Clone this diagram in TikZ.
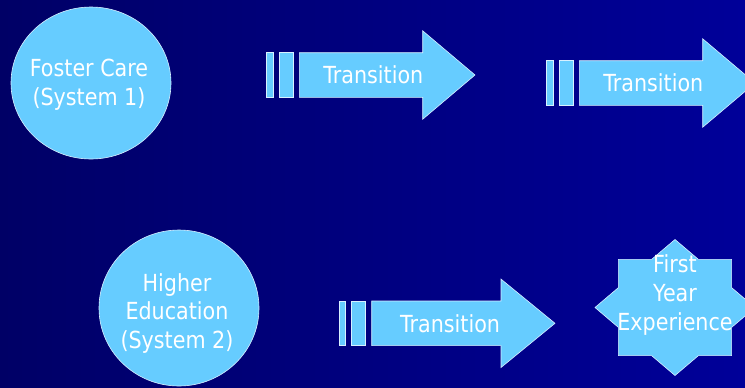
\documentclass[tikz,border=0pt]{standalone}
\usepackage{fontspec}
\setmainfont{DejaVu Sans}[FakeStretch=0.88]
\definecolor{bgleft}{HTML}{000066}
\definecolor{bgright}{HTML}{000099}
\definecolor{shapefill}{HTML}{66CCFF}
\definecolor{shapeline}{HTML}{D8F0FF}
\tikzset{
  shp/.style={fill=shapefill, draw=shapeline, line width=0.6bp},
  lbl/.style={text=white, align=center, inner sep=0pt,
    font=\fontsize{23.5bp}{28.7bp}\selectfont},
}
% \TArrow{name}{x0}{yc}{headbase}{tip}{textx}
\newcommand{\TArrow}[6]{%
  \path[shp] (#2,#3-22.3) rectangle (#2+6.7,#3+22.3);
  \path[shp] (#2+12.7,#3-22.3) rectangle (#2+26.7,#3+22.3);
  \path[shp] (#2+32.7,#3-22.3) -- (#4,#3-22.3) -- (#4,#3-44.2) -- (#5,#3)
     -- (#4,#3+44.2) -- (#4,#3+22.3) -- (#2+32.7,#3+22.3) -- cycle;
  \node[lbl] (#1) at (#6,#3) {Transition};
}
\begin{document}
\begin{tikzpicture}[x=1bp,y=-1bp]
\useasboundingbox (0,0) rectangle (745,387);
\clip (0,0) rectangle (745,387);
\shade[left color=bgleft, right color=bgright] (0,0) rectangle (745,387);

% Foster care
\path[shp] (91,83) ellipse [x radius=80, y radius=76];
\node[lbl] (foster) at (89,84.5) {Foster Care\\(System 1)};

% Higher education
\path[shp] (179,308) ellipse [x radius=80, y radius=78];
\node[lbl] (higher) at (177,313.5) {Higher\\Education\\(System 2)};

% Transition arrows
\TArrow{t1}{266.7}{75}{422.7}{475}{373.3}
\TArrow{t2}{546.7}{83}{702.7}{755}{653.3}
\TArrow{t3}{339}{323.3}{501}{555}{450}

% First year experience star
\begin{scope}[shift={(675,307.5)}]
\path[shp] (80,0) -- (56.57,19.92) -- (56.57,48.08) -- (23.43,48.08)
  -- (0,68) -- (-23.43,48.08) -- (-56.57,48.08) -- (-56.57,19.92)
  -- (-80,0) -- (-56.57,-19.92) -- (-56.57,-48.08) -- (-23.43,-48.08)
  -- (0,-68) -- (23.43,-48.08) -- (56.57,-48.08) -- (56.57,-19.92) -- cycle;
\end{scope}
\node[lbl] (fye) at (675,295) {First\\Year\\Experience};
\end{tikzpicture}
\end{document}
